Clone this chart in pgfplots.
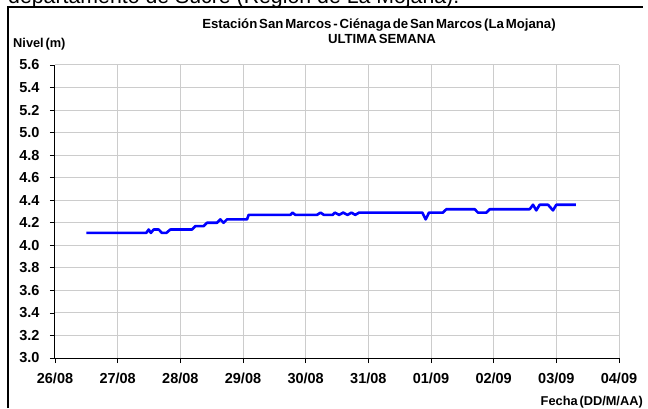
\documentclass[border=0pt]{standalone}
\usepackage{fontspec}
\setmainfont{Liberation Sans}
\usepackage{pgfplots}
\pgfplotsset{compat=1.18}

\begin{document}
\begin{tikzpicture}[x=1pt,y=1pt]
\useasboundingbox (0,0) rectangle (648,408);
% cut-off line of the report text above the chart
\node[anchor=base west, inner sep=0pt, font=\fontsize{21.3}{25}\selectfont] at (8,404.5) {departamento de Sucre (Región de La Mojana).};
\draw[line width=1.6pt] (8,0) -- (8,401) -- (643,401);
\begin{axis}[
  at={(55pt,50pt)}, anchor=south west,
  scale only axis, width=564pt, height=293pt,
  xmin=0, xmax=9, ymin=3, ymax=5.6,
  axis x line*=bottom, axis y line*=left,
  axis line style={black, line width=1pt},
  xtick={0,1,2,3,4,5,6,7,8,9},
  xticklabels={26/08,27/08,28/08,29/08,30/08,31/08,01/09,02/09,03/09,04/09},
  ytick={3,3.2,3.4,3.6,3.8,4,4.2,4.4,4.6,4.8,5,5.2,5.4,5.6},
  tick align=outside, major tick length=5pt,
  tick style={black, line width=0.8pt},
  grid=major,
  major grid style={black!20, line width=1pt},
  tick label style={font=\fontsize{14.5}{16}\selectfont\bfseries},
  xticklabel style={yshift=-6pt},
  yticklabel style={xshift=-7pt},
  yticklabel style={/pgf/number format/.cd, fixed, fixed zerofill, precision=1, assume math mode=true},
]
\addplot[blue, line width=2.6pt, line join=round] coordinates {
  (0.50,4.11) (1.457,4.11) (1.495,4.14) (1.53,4.11) (1.574,4.14) (1.654,4.14)
  (1.707,4.11) (1.777,4.11) (1.84,4.14) (2.186,4.14) (2.24,4.17) (2.37,4.17)
  (2.425,4.20) (2.585,4.20) (2.638,4.23) (2.69,4.20) (2.745,4.23) (3.064,4.23)
  (3.09,4.27) (3.755,4.27) (3.79,4.29) (3.835,4.27) (4.18,4.27) (4.238,4.29)
  (4.29,4.27) (4.43,4.27) (4.466,4.29) (4.534,4.27) (4.598,4.29) (4.668,4.27)
  (4.732,4.29) (4.79,4.27) (4.853,4.29) (5.862,4.29) (5.915,4.23) (5.968,4.29)
  (6.19,4.29) (6.245,4.32) (6.697,4.32) (6.75,4.29) (6.883,4.29) (6.936,4.32)
  (7.574,4.32) (7.628,4.36) (7.68,4.31) (7.734,4.36) (7.867,4.36) (7.947,4.31)
  (8.0,4.36) (8.31,4.36)
};
\end{axis}
\begin{scope}[font=\fontsize{13.2}{15}\selectfont\bfseries]
\node[anchor=base, inner sep=0pt] at (379,379.5) {\spaceskip=0.14em Estación San Marcos - Ciénaga de San Marcos (La Mojana)};
\node[anchor=base, inner sep=0pt] at (382,364.5) {\spaceskip=0.14em ULTIMA SEMANA};
\end{scope}
\begin{scope}[font=\fontsize{12.8}{14}\selectfont\bfseries]
\node[anchor=base west, inner sep=0pt] at (13,360) {\spaceskip=0.14em Nivel (m)};
\node[anchor=base east, inner sep=0pt] at (643,2.5) {\spaceskip=0.14em Fecha (DD/M/AA)};
\end{scope}
\end{tikzpicture}
\end{document}
